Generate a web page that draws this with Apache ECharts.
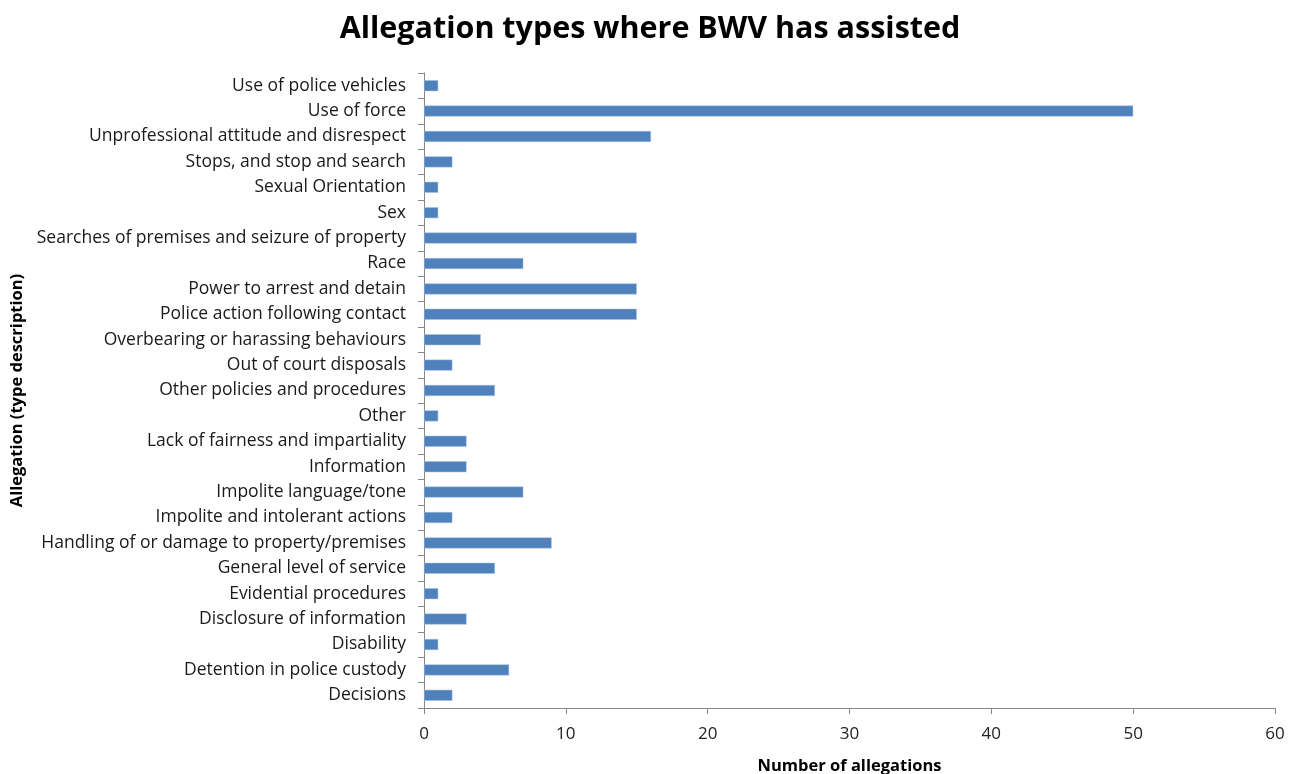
<!DOCTYPE html>
<html>
<head>
<meta charset="utf-8">
<script src="https://cdn.jsdelivr.net/npm/echarts@6/dist/echarts.min.js"></script>
<style>
  html, body { margin: 0; padding: 0; background: #fff; }
  #chart { width: 1293px; height: 774px; }
</style>
</head>
<body>
<div id="chart"></div>
<script>
// categories, bottom to top (as drawn by the category axis)
var categories = [
    'Decisions',
    'Detention in police custody',
    'Disability',
    'Disclosure of information',
    'Evidential procedures',
    'General level of service',
    'Handling of or damage to property/premises',
    'Impolite and intolerant actions',
    'Impolite language/tone',
    'Information',
    'Lack of fairness and impartiality',
    'Other',
    'Other policies and procedures',
    'Out of court disposals',
    'Overbearing or harassing behaviours',
    'Police action following contact',
    'Power to arrest and detain',
    'Race',
    'Searches of premises and seizure of property',
    'Sex',
    'Sexual Orientation',
    'Stops, and stop and search',
    'Unprofessional attitude and disrespect',
    'Use of force',
    'Use of police vehicles'
];
var allegations = [2, 6, 1, 3, 1, 5, 9, 2, 7, 3, 3, 1, 5, 2, 4, 15, 15, 7, 15, 1, 1, 2, 16, 50, 1];

var myChart = echarts.init(document.getElementById('chart'));

var option = {
    backgroundColor: '#ffffff',
    animation: false,
    textStyle: { fontFamily: 'Open Sans' },
    title: {
        text: 'Allegation types where BWV has assisted',
        left: 645,
        textAlign: 'center',
        top: 9,
        textStyle: {
            fontFamily: 'Open Sans',
            fontSize: 30.5,
            fontWeight: 'bold',
            color: '#000'
        }
    },
    grid: {
        left: 424,
        right: 18,
        top: 73,
        bottom: 66,
        containLabel: false,
        outerBoundsMode: 'none'
    },
    xAxis: {
        type: 'value',
        min: 0,
        max: 60,
        interval: 10,
        name: 'Number of allegations',
        nameLocation: 'middle',
        nameGap: 50,
        nameTextStyle: {
            fontFamily: 'Open Sans',
            fontSize: 16.5,
            fontWeight: 'bold',
            color: '#000'
        },
        axisLine: { show: true, lineStyle: { color: '#878787', width: 1 } },
        axisTick: { show: true, length: 6, lineStyle: { color: '#878787' } },
        axisLabel: { fontSize: 17, color: '#222', margin: 18 },
        splitLine: { show: false }
    },
    yAxis: {
        type: 'category',
        data: categories,
        name: 'Allegation (type description)',
        nameLocation: 'middle',
        nameGap: 394,
        nameRotate: 90,
        nameTextStyle: {
            fontFamily: 'Open Sans',
            fontSize: 16.5,
            fontWeight: 'bold',
            color: '#000'
        },
        axisLine: { show: true, lineStyle: { color: '#878787', width: 1 } },
        axisTick: { show: true, length: 6, alignWithLabel: false, lineStyle: { color: '#878787' } },
        axisLabel: { fontSize: 17.5, color: '#1a1a1a', margin: 18 },
        splitLine: { show: false }
    },
    series: [
        {
            name: 'Number of allegations',
            type: 'bar',
            data: allegations,
            barWidth: 11,
            itemStyle: {
                color: '#4f81bd',
                borderColor: '#a9c1df',
                borderWidth: 0.5
            }
        }
    ]
};

myChart.setOption(option);
</script>
</body>
</html>
